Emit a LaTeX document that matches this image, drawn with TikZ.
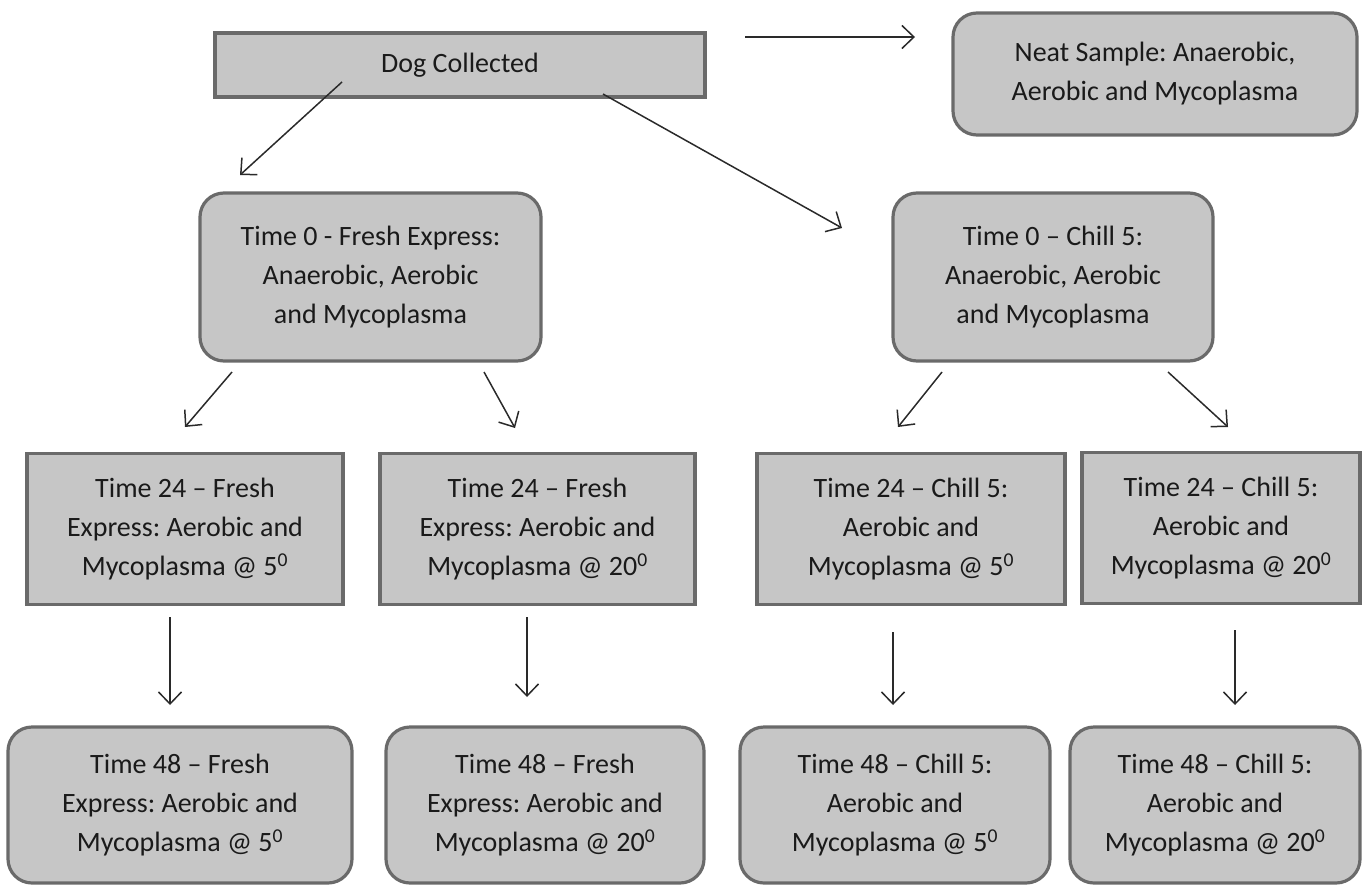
\documentclass[tikz,border=0pt]{standalone}
\usepackage{fontspec}
\setmainfont{Carlito}
\usetikzlibrary{arrows.meta}
\definecolor{boxfill}{HTML}{C6C6C6}
\definecolor{boxline}{HTML}{6A6A6A}
\definecolor{txt}{HTML}{1A1A1A}
\definecolor{arrowc}{HTML}{2A2A2A}
\frenchspacing
\begin{document}
\begin{tikzpicture}[x=1pt,y=-1pt,
  box/.style={draw=boxline, fill=boxfill, line width=3.2pt, text=txt, align=center,
    inner sep=0pt, font=\fontsize{28}{39}\selectfont},
  sqbox/.style={box},
  rbox/.style={box, rounded corners=24pt},
  arr/.style={draw=arrowc, line width=1.5pt,
    -{Straight Barb[length=12pt,width=23pt,line width=1.5pt]}}
]
\useasboundingbox (0,0) rectangle (1362,886);

% top row
\node[sqbox, minimum width=490pt, minimum height=64pt] (dog) at (460,65) {Dog Collected};
\node[rbox, minimum width=404pt, minimum height=122pt] (neat) at (1155,74)
  {Neat Sample: Anaerobic,\\Aerobic and Mycoplasma};

% time 0
\node[rbox, minimum width=341pt, minimum height=168pt] (tzf) at (370.5,277)
  {Time 0 - Fresh Express:\\Anaerobic, Aerobic\\and Mycoplasma};
\node[rbox, minimum width=320pt, minimum height=168pt] (tzc) at (1053,277)
  {Time 0 -- Chill 5:\\Anaerobic, Aerobic\\and Mycoplasma};

% time 24
\node[sqbox, minimum width=316pt, minimum height=151pt] (tfa) at (185,529)
  {Time 24 -- Fresh\\Express: Aerobic and\\Mycoplasma @ 5\textsuperscript{0}};
\node[sqbox, minimum width=315pt, minimum height=151pt] (tfb) at (537.5,529)
  {Time 24 -- Fresh\\Express: Aerobic and\\Mycoplasma @ 20\textsuperscript{0}};
\node[sqbox, minimum width=308pt, minimum height=151pt] (tca) at (911,529)
  {Time 24 -- Chill 5:\\Aerobic and\\Mycoplasma @ 5\textsuperscript{0}};
\node[sqbox, minimum width=278pt, minimum height=151pt] (tcb) at (1221,528)
  {Time 24 -- Chill 5:\\Aerobic and\\Mycoplasma @ 20\textsuperscript{0}};

% time 48
\node[rbox, minimum width=344pt, minimum height=156pt] (ufa) at (180,805)
  {Time 48 -- Fresh\\Express: Aerobic and\\Mycoplasma @ 5\textsuperscript{0}};
\node[rbox, minimum width=318pt, minimum height=156pt] (ufb) at (545,805)
  {Time 48 -- Fresh\\Express: Aerobic and\\Mycoplasma @ 20\textsuperscript{0}};
\node[rbox, minimum width=310pt, minimum height=156pt] (uca) at (895,805)
  {Time 48 -- Chill 5:\\Aerobic and\\Mycoplasma @ 5\textsuperscript{0}};
\node[rbox, minimum width=290pt, minimum height=156pt] (ucb) at (1215,805)
  {Time 48 -- Chill 5:\\Aerobic and\\Mycoplasma @ 20\textsuperscript{0}};

% arrow end points
\coordinate (p1s) at (745,37);  \coordinate (p1e) at (915,37);
\coordinate (p2s) at (342,82);  \coordinate (p2e) at (240,175);
\coordinate (p3s) at (603,94);  \coordinate (p3e) at (842,228);
\coordinate (p4s) at (232,372); \coordinate (p4e) at (185,427);
\coordinate (p5s) at (484,372); \coordinate (p5e) at (515,428);
\coordinate (p6s) at (942,372); \coordinate (p6e) at (898,427);
\coordinate (p7s) at (1168,372); \coordinate (p7e) at (1228,427);
\coordinate (p8s) at (170,617); \coordinate (p8e) at (170,705);
\coordinate (p9s) at (527,617); \coordinate (p9e) at (527,697);
\coordinate (p10s) at (893,632); \coordinate (p10e) at (893,705);
\coordinate (p11s) at (1235,630); \coordinate (p11e) at (1235,705);

\draw[arr] (p1s) -- (p1e);
\draw[arr] (p2s) -- (p2e);
\draw[arr] (p3s) -- (p3e);
\draw[arr] (p4s) -- (p4e);
\draw[arr] (p5s) -- (p5e);
\draw[arr] (p6s) -- (p6e);
\draw[arr] (p7s) -- (p7e);
\draw[arr] (p8s) -- (p8e);
\draw[arr] (p9s) -- (p9e);
\draw[arr] (p10s) -- (p10e);
\draw[arr] (p11s) -- (p11e);
\end{tikzpicture}
\end{document}
